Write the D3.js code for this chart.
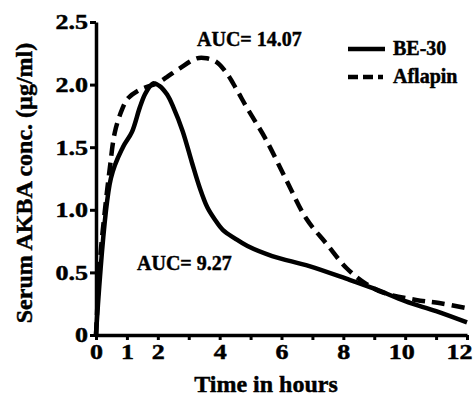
<!DOCTYPE html>
<html>
<head>
<meta charset="utf-8">
<script src="https://cdn.jsdelivr.net/npm/d3@7"></script>
<style>
  html, body { margin: 0; padding: 0; background: #fff; }
  svg { display: block; }
  svg text { font-family: "Liberation Serif", "Times New Roman", serif !important; font-weight: bold; fill: #000; stroke: #000; stroke-width: 0.45px; }
</style>
</head>
<body>
<svg id="chart" width="474" height="398"></svg>
<script>
// ---- data ----
const beTimes  = [0, 0.48, 0.87, 1.16, 1.42, 1.6, 1.85, 2.05, 2.3, 2.5, 2.8, 3.1, 3.35, 3.6, 3.85, 4.1, 4.5, 4.9, 5.7, 6.9, 8.2, 9.0, 10.0, 11.0, 12.0];
const beValues = [0, 1.25, 1.50, 1.62, 1.82, 1.93, 2.01, 1.99, 1.92, 1.82, 1.63, 1.38, 1.18, 1.02, 0.92, 0.84, 0.77, 0.71, 0.63, 0.55, 0.44, 0.37, 0.27, 0.19, 0.10];

const afTimes  = [0, 0.13, 0.29, 0.45, 0.61, 0.84, 1.03, 1.42, 1.97, 2.29, 2.71, 3.26, 3.58, 3.9, 4.23, 4.55, 4.87, 5.5, 6.15, 6.8, 7.45, 8.1, 8.7, 9.27, 10.35, 11.1, 11.97];
const afValues = [0, 0.60, 1.00, 1.34, 1.62, 1.80, 1.89, 1.96, 2.01, 2.06, 2.13, 2.21, 2.21, 2.18, 2.09, 1.96, 1.82, 1.56, 1.24, 0.93, 0.73, 0.535, 0.415, 0.34, 0.28, 0.255, 0.215];

const seriesNames = ["BE-30", "Aflapin"];
const aucLabels = ["AUC= 9.27", "AUC= 14.07"];
const xTickValues = [0,1,2,3,4,5,6,7,8,9,10,11,12];
const xTickLabels = [0,1,2,4,6,8,10,12];
const yTickValues = [0, 0.5, 1.0, 1.5, 2.0, 2.5];
const yTickLabels = ["0", "0.5", "1.0", "1.5", "2.0", "2.5"];

// ---- layout ----
const svg = d3.select("#chart");
const x = d3.scaleLinear().domain([0, 12]).range([96, 467]);
const y = d3.scaleLinear().domain([0, 2.5]).range([335, 22]);

// axes
const xAxis = d3.axisBottom(x).tickValues(xTickValues).tickSize(5).tickSizeOuter(0)
  .tickFormat(d => xTickLabels.includes(d) ? String(d) : "");
const gx = svg.append("g").attr("transform", `translate(0,${y(0)})`).call(xAxis)
  .attr("font-family", null).attr("font-size", null);
gx.select(".domain").attr("stroke", "#000").attr("stroke-width", 3.5);
gx.selectAll(".tick line").attr("stroke", "#000").attr("stroke-width", 3);
gx.selectAll(".tick text")
  .attr("y", null).attr("dy", null)
  .attr("text-anchor", d => d === 12 ? "end" : "middle")
  .attr("transform", d => d === 12 ? "translate(5,24) scale(1.3,1)"
                        : d === 10 ? "translate(-4,24) scale(1.3,1)"
                        : "translate(0,24) scale(1.3,1)")
  .style("font-size", "20px");

const yAxis = d3.axisLeft(y).tickValues(yTickValues).tickSize(6).tickSizeOuter(0)
  .tickFormat((d, i) => yTickLabels[i]);
const gy = svg.append("g").attr("transform", `translate(${x(0)},0)`).call(yAxis)
  .attr("font-family", null).attr("font-size", null);
gy.select(".domain").attr("stroke", "#000").attr("stroke-width", 3.5);
gy.selectAll(".tick line").attr("stroke", "#000").attr("stroke-width", 3);
gy.selectAll(".tick text")
  .attr("x", null).attr("dy", "0.34em")
  .attr("transform", "translate(-8,0) scale(1.3,1)")
  .style("font-size", "20px");

// lines
const line = d3.line().x(d => x(d[0])).y(d => y(d[1])).curve(d3.curveCatmullRom.alpha(0.5));
const beData = beTimes.map((t, i) => [t, beValues[i]]);
const afData = afTimes.map((t, i) => [t, afValues[i]]);

svg.append("path").datum(afData).attr("d", line)
  .attr("fill", "none").attr("stroke", "#000").attr("stroke-width", 4.5)
  .attr("stroke-dasharray", "13,7");
svg.append("path").datum(beData).attr("d", line)
  .attr("fill", "none").attr("stroke", "#000").attr("stroke-width", 4.5);

// AUC labels
svg.append("text").attr("x", 137).attr("y", 270).style("font-size", "20px").text(aucLabels[0]);
svg.append("text").attr("x", 197).attr("y", 46).style("font-size", "20px").text(aucLabels[1]);

// legend
const lg = svg.append("g");
lg.append("line").attr("x1", 348).attr("x2", 385).attr("y1", 49).attr("y2", 49)
  .attr("stroke", "#000").attr("stroke-width", 4.5);
lg.append("text").attr("x", 393).attr("y", 55).style("font-size", "20px").text(seriesNames[0]);
lg.append("line").attr("x1", 348).attr("x2", 383).attr("y1", 77).attr("y2", 77)
  .attr("stroke", "#000").attr("stroke-width", 4.5).attr("stroke-dasharray", "10,5");
lg.append("text").attr("x", 393).attr("y", 83).style("font-size", "20px").text(seriesNames[1]);

// axis titles
svg.append("text").attr("x", 266).attr("y", 392).attr("text-anchor", "middle")
  .style("font-size", "24px").text("Time in hours");
svg.append("text").attr("transform", "translate(32,183) rotate(-90)").attr("text-anchor", "middle")
  .style("font-size", "24px").text("Serum AKBA conc. (µg/ml)");
</script>
</body>
</html>
